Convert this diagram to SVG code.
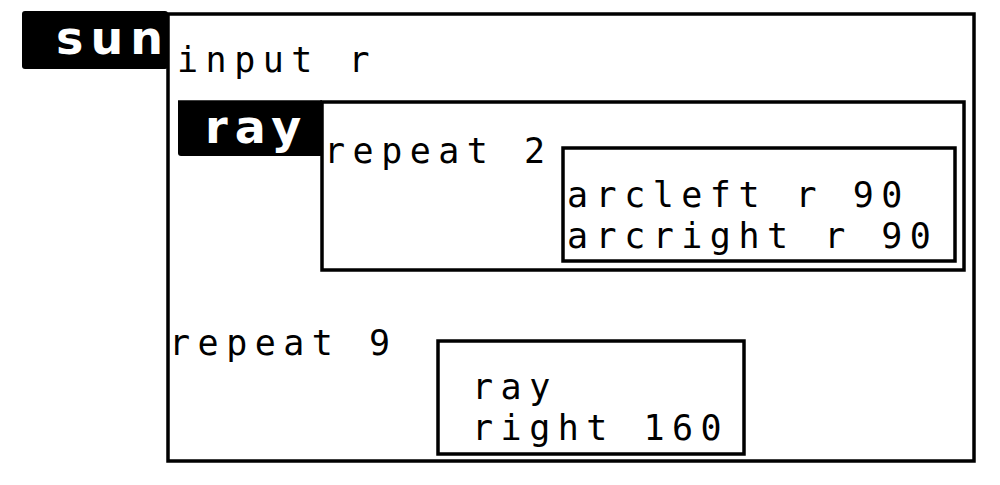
<svg xmlns="http://www.w3.org/2000/svg" width="1000" height="485" viewBox="0 0 1000 485">
<style>
.box{fill:none;stroke:#000;stroke-width:3.5}
.lbl{fill:#000}
.t{font-family:"DejaVu Sans Mono","Liberation Mono",monospace;font-size:35px;letter-spacing:7.5px;fill:#000}
.b{font-family:"DejaVu Sans","Liberation Sans",sans-serif;font-weight:bold;font-size:46px;letter-spacing:7px;fill:#fff}
</style>
<rect width="1000" height="485" fill="#fff"/>
<g id="sun">
<rect class="box" x="168" y="14" width="806" height="447"/>
<rect class="lbl" x="22" y="11" width="146" height="58" rx="3"/>
<text class="b" x="56" y="54">sun</text>
<text class="t" x="177" y="72">input r</text>
</g>
<g id="ray">
<rect class="box" x="322" y="102" width="642" height="168"/>
<rect class="lbl" x="178" y="101" width="145" height="55" rx="3"/>
<line x1="178" y1="102" x2="322" y2="102" stroke="#000" stroke-width="3.5"/>
<text class="b" x="205" y="143">ray</text>
<text class="t" x="324" y="163">repeat 2</text>
</g>
<g id="arcs">
<rect class="box" x="563" y="148" width="392" height="113"/>
<text class="t" x="567" y="207">arcleft r 90<tspan x="567" dy="41">arcright r 90</tspan></text>
</g>
<g id="repeat9">
<text class="t" x="169" y="355">repeat 9</text>
</g>
<g id="body">
<rect class="box" x="438" y="341" width="306" height="113"/>
<text class="t" x="472" y="399">ray<tspan x="472" dy="41">right 160</tspan></text>
</g>
<g id="connectors"></g>
</svg>
